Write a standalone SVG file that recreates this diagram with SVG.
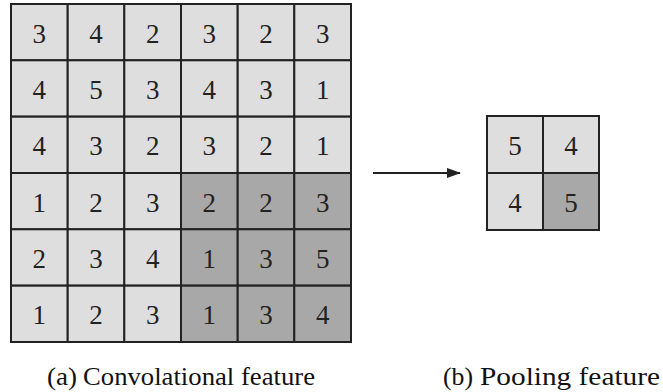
<svg xmlns="http://www.w3.org/2000/svg" width="663" height="392" viewBox="0 0 663 392">
<style>
.l{fill:#dedede;stroke:#222;stroke-width:2}
.d{fill:#a8a8a8;stroke:#222;stroke-width:2}
.n{font-family:'Liberation Serif','Times New Roman','DejaVu Serif',serif;font-size:27px;fill:#222;text-anchor:middle}
.c{font-family:'Liberation Serif','Times New Roman','DejaVu Serif',serif;font-size:25px;fill:#111}
</style>
<defs>
<marker id="ah" markerWidth="14" markerHeight="10" refX="13" refY="5" orient="auto" markerUnits="userSpaceOnUse">
<path d="M0,0 L14,5 L0,10 z" fill="#222"/>
</marker>
</defs>
<g id="conv">
<rect class="l" x="11" y="4" width="56.7" height="56.3"/><text class="n" x="39.3" y="42.5">3</text>
<rect class="l" x="67.7" y="4" width="56.7" height="56.3"/><text class="n" x="96" y="42.5">4</text>
<rect class="l" x="124.3" y="4" width="56.7" height="56.3"/><text class="n" x="152.7" y="42.5">2</text>
<rect class="l" x="181" y="4" width="56.7" height="56.3"/><text class="n" x="209.3" y="42.5">3</text>
<rect class="l" x="237.7" y="4" width="56.7" height="56.3"/><text class="n" x="266" y="42.5">2</text>
<rect class="l" x="294.3" y="4" width="56.7" height="56.3"/><text class="n" x="322.7" y="42.5">3</text>

<rect class="l" x="11" y="60.3" width="56.7" height="56.3"/><text class="n" x="39.3" y="98.8">4</text>
<rect class="l" x="67.7" y="60.3" width="56.7" height="56.3"/><text class="n" x="96" y="98.8">5</text>
<rect class="l" x="124.3" y="60.3" width="56.7" height="56.3"/><text class="n" x="152.7" y="98.8">3</text>
<rect class="l" x="181" y="60.3" width="56.7" height="56.3"/><text class="n" x="209.3" y="98.8">4</text>
<rect class="l" x="237.7" y="60.3" width="56.7" height="56.3"/><text class="n" x="266" y="98.8">3</text>
<rect class="l" x="294.3" y="60.3" width="56.7" height="56.3"/><text class="n" x="322.7" y="98.8">1</text>

<rect class="l" x="11" y="116.7" width="56.7" height="56.3"/><text class="n" x="39.3" y="155.2">4</text>
<rect class="l" x="67.7" y="116.7" width="56.7" height="56.3"/><text class="n" x="96" y="155.2">3</text>
<rect class="l" x="124.3" y="116.7" width="56.7" height="56.3"/><text class="n" x="152.7" y="155.2">2</text>
<rect class="l" x="181" y="116.7" width="56.7" height="56.3"/><text class="n" x="209.3" y="155.2">3</text>
<rect class="l" x="237.7" y="116.7" width="56.7" height="56.3"/><text class="n" x="266" y="155.2">2</text>
<rect class="l" x="294.3" y="116.7" width="56.7" height="56.3"/><text class="n" x="322.7" y="155.2">1</text>

<rect class="l" x="11" y="173" width="56.7" height="56.3"/><text class="n" x="39.3" y="211.5">1</text>
<rect class="l" x="67.7" y="173" width="56.7" height="56.3"/><text class="n" x="96" y="211.5">2</text>
<rect class="l" x="124.3" y="173" width="56.7" height="56.3"/><text class="n" x="152.7" y="211.5">3</text>
<rect class="d" x="181" y="173" width="56.7" height="56.3"/><text class="n" x="209.3" y="211.5">2</text>
<rect class="d" x="237.7" y="173" width="56.7" height="56.3"/><text class="n" x="266" y="211.5">2</text>
<rect class="d" x="294.3" y="173" width="56.7" height="56.3"/><text class="n" x="322.7" y="211.5">3</text>

<rect class="l" x="11" y="229.3" width="56.7" height="56.3"/><text class="n" x="39.3" y="267.8">2</text>
<rect class="l" x="67.7" y="229.3" width="56.7" height="56.3"/><text class="n" x="96" y="267.8">3</text>
<rect class="l" x="124.3" y="229.3" width="56.7" height="56.3"/><text class="n" x="152.7" y="267.8">4</text>
<rect class="d" x="181" y="229.3" width="56.7" height="56.3"/><text class="n" x="209.3" y="267.8">1</text>
<rect class="d" x="237.7" y="229.3" width="56.7" height="56.3"/><text class="n" x="266" y="267.8">3</text>
<rect class="d" x="294.3" y="229.3" width="56.7" height="56.3"/><text class="n" x="322.7" y="267.8">5</text>

<rect class="l" x="11" y="285.7" width="56.7" height="56.3"/><text class="n" x="39.3" y="324.2">1</text>
<rect class="l" x="67.7" y="285.7" width="56.7" height="56.3"/><text class="n" x="96" y="324.2">2</text>
<rect class="l" x="124.3" y="285.7" width="56.7" height="56.3"/><text class="n" x="152.7" y="324.2">3</text>
<rect class="d" x="181" y="285.7" width="56.7" height="56.3"/><text class="n" x="209.3" y="324.2">1</text>
<rect class="d" x="237.7" y="285.7" width="56.7" height="56.3"/><text class="n" x="266" y="324.2">3</text>
<rect class="d" x="294.3" y="285.7" width="56.7" height="56.3"/><text class="n" x="322.7" y="324.2">4</text>
</g>
<g id="pool">
<rect class="l" x="487" y="116" width="56" height="57"/><text class="n" x="515" y="154.5">5</text>
<rect class="l" x="543" y="116" width="56" height="57"/><text class="n" x="571" y="154.5">4</text>
<rect class="l" x="487" y="173" width="56" height="57"/><text class="n" x="515" y="211.5">4</text>
<rect class="d" x="543" y="173" width="56" height="57"/><text class="n" x="571" y="211.5">5</text>
</g>
<g id="connectors">
<line x1="373" y1="173" x2="460" y2="173" stroke="#222" stroke-width="1.8" marker-end="url(#ah)"/>
</g>
<g id="captions">
<text class="c" x="47" y="385" textLength="30" lengthAdjust="spacingAndGlyphs">(a)</text>
<text class="c" x="83" y="385" textLength="232" lengthAdjust="spacingAndGlyphs">Convolational feature</text>
<text class="c" x="443" y="385" textLength="30" lengthAdjust="spacingAndGlyphs">(b)</text>
<text class="c" x="480" y="385" textLength="180" lengthAdjust="spacingAndGlyphs">Pooling feature</text>
</g>
</svg>
